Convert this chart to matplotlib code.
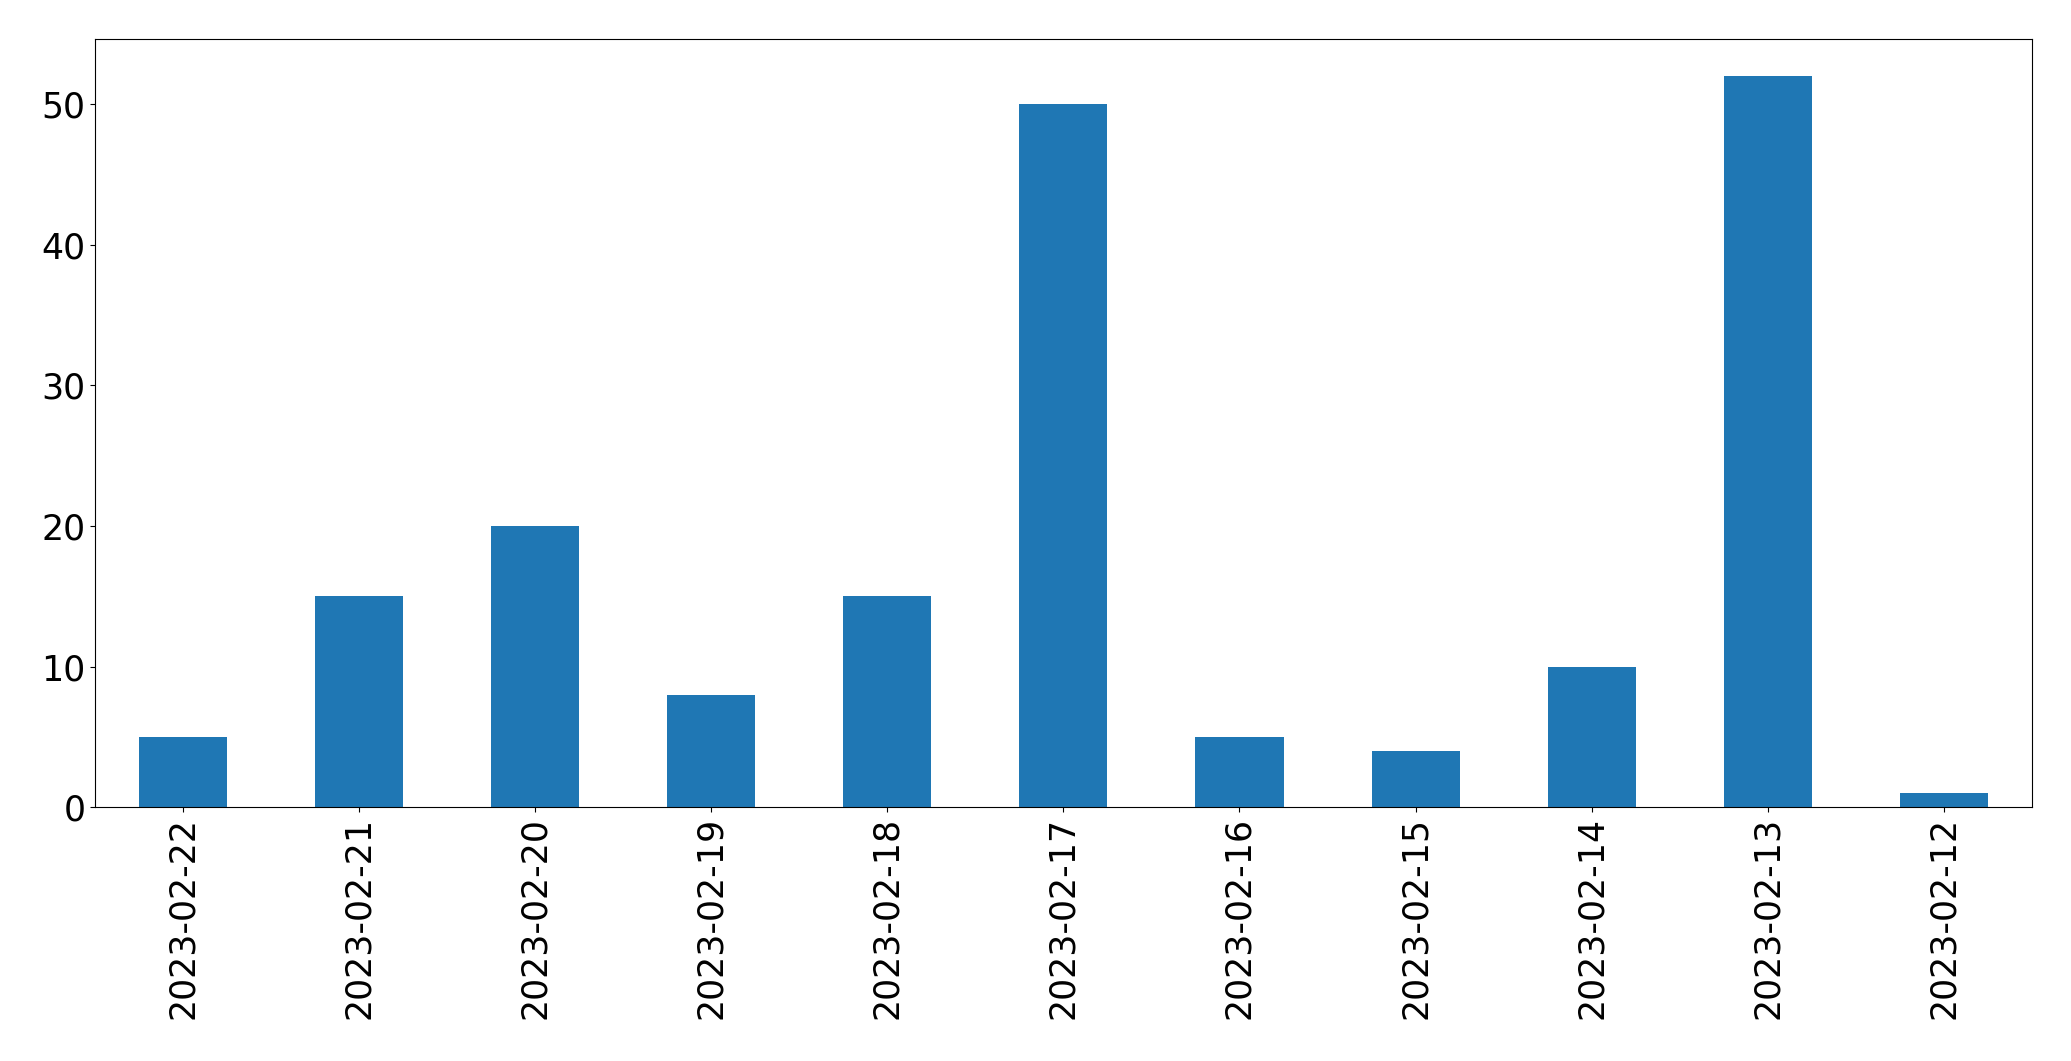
import matplotlib
matplotlib.use('Agg')
import matplotlib.pyplot as plt
import pandas as pd

dates = ['2023-02-22', '2023-02-21', '2023-02-20', '2023-02-19', '2023-02-18', '2023-02-17',
         '2023-02-16', '2023-02-15', '2023-02-14', '2023-02-13', '2023-02-12']
counts = [5, 15, 20, 8, 15, 50, 5, 4, 10, 52, 1]

s = pd.Series(counts, index=dates)

fig = plt.figure(figsize=(20.71, 10.61), dpi=100)
ax = fig.add_axes([0.046, 0.239, 0.935, 0.724])
s.plot(kind='bar', ax=ax, color='#1f77b4', fontsize=25)
ax.tick_params(axis='both', labelsize=25)
fig.savefig('out.png', dpi=100)
